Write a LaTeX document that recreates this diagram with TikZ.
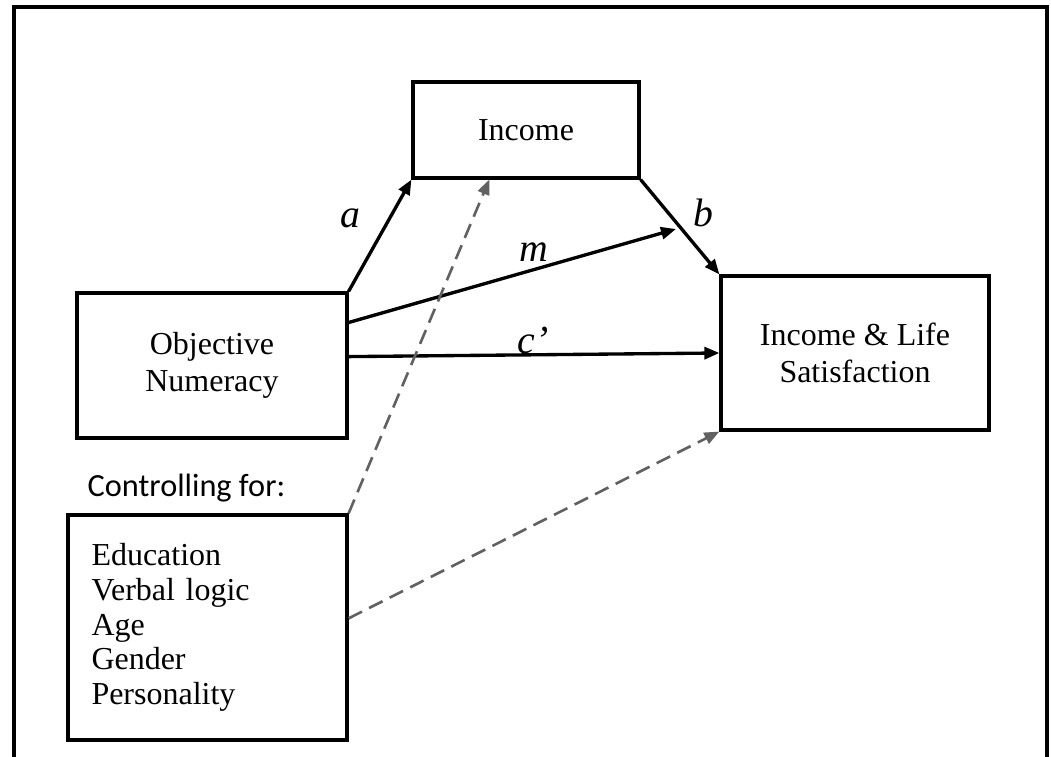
\documentclass[tikz,border=0pt]{standalone}
\usepackage{fontspec}
\setmainfont{Liberation Serif}
\newfontfamily\calfont{Carlito}
\usetikzlibrary{calc}
\usetikzlibrary{positioning}
\usetikzlibrary{arrows.meta}
\tikzstyle{varbox} = [draw, line width=0.9pt, rectangle, inner sep=0, align=center, font=\fontsize{9.1}{10.6}\selectfont]
\tikzstyle{pathlbl} = [inner sep=0, font=\fontsize{11.3}{12}\selectfont\itshape]
\tikzstyle{effect} = [line width=0.95pt, -{Triangle[length=0.15cm, width=0.12cm]}]
\tikzstyle{ctrleffect} = [line width=0.75pt, color=black!62, dash pattern=on 0.15cm off 0.08cm, -{Triangle[length=0.15cm, width=0.12cm]}]

\begin{document}
\begin{tikzpicture}
    \useasboundingbox (0,0) rectangle (10.51,-7.57);
    % frame
    \draw[line width=1.2pt] (0.14,-7.57) -- (0.14,-0.07) -- (10.47,-0.07) -- (10.47,-7.57);

    \node[varbox, minimum width=2.26cm, minimum height=0.96cm] (inc) at (5.26,-1.30) {Income};
    \node[varbox, minimum width=2.70cm, minimum height=1.45cm] (num) at (2.12,-3.655) {Objective\\Numeracy};
    \node[varbox, minimum width=2.68cm, minimum height=1.54cm] (ils) at (8.55,-3.53) {Income \& Life\\Satisfaction};
    \node[varbox, minimum width=2.79cm, minimum height=2.25cm, align=left, text width=2.32cm, font=\fontsize{9.1}{9.85}\selectfont] (ctl) at (2.075,-6.275) {Education\\Verbal logic\\Age\\Gender\\Personality};
    \node[anchor=west, inner sep=0, font=\calfont\fontsize{9.2}{10.6}\selectfont] (ctltitle) at (0.87,-4.88) {Controlling for:};

    \coordinate (mend) at (6.76,-2.29);
    \draw[effect] (num.north east) -- (inc.south west);
    \draw[effect] (inc.south east) -- (ils.north west);
    \draw[effect] ($(num.north east)!0.21!(num.south east)$) -- (mend);
    \draw[effect] ($(num.north east)!0.44!(num.south east)$) -- (ils.west);
    \draw[ctrleffect] (ctl.north east) -- ($(inc.south west)!0.34!(inc.south east)$);
    \draw[ctrleffect] ($(ctl.north east)!0.46!(ctl.south east)$) -- (ils.south west);

    \node[pathlbl] (lbla) at (3.50,-2.18) {a};
    \node[pathlbl] (lblb) at (7.03,-2.13) {b};
    \node[pathlbl] (lblm) at (5.34,-2.52) {m};
    \node[pathlbl] (lblc) at (5.33,-3.40) {c’};
\end{tikzpicture}
\end{document}
